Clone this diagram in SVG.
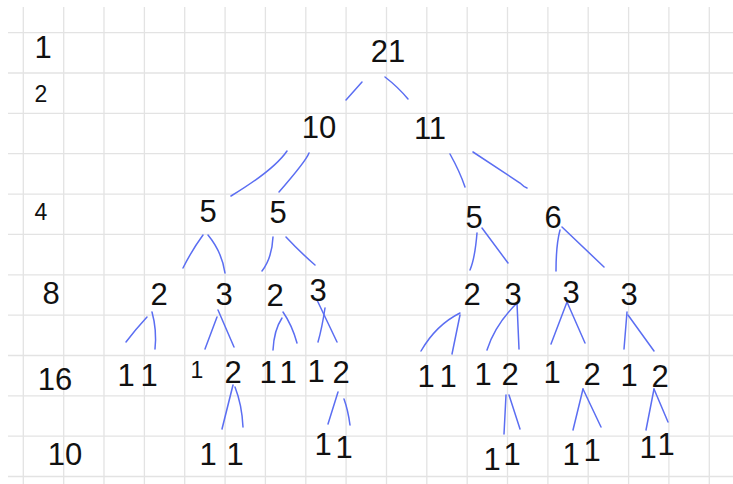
<svg xmlns="http://www.w3.org/2000/svg" width="733" height="484" viewBox="0 0 733 484">
<style>
.grid{stroke:#e3e3e3;stroke-width:1.3;fill:none}
.edge{stroke:#5b6ef2;stroke-width:1.5;fill:none;stroke-linecap:round}
text{font-family:"Liberation Sans",Arial,sans-serif;font-size:31px;fill:#111;text-anchor:middle}
.sm{font-size:23px}
</style>
<rect width="733" height="484" fill="#fff"/>
<g id="grid" class="grid">
<path d="M23.3 7V484M63.7 7V484M104 7V484M144.4 7V484M184.7 7V484M225.1 7V484M265.4 7V484M305.8 7V484M346.1 7V484M386.5 7V484M426.8 7V484M467.2 7V484M507.5 7V484M547.9 7V484M588.2 7V484M628.6 7V484M668.9 7V484M709.3 7V484"/>
<path d="M8 32.7H733M8 73H733M8 113.4H733M8 153.7H733M8 194.1H733M8 234.4H733M8 274.8H733M8 315.1H733M8 355.5H733M8 395.8H733M8 436.2H733M8 476.5H733"/>
</g>
<g id="levels">
<text x="43" y="58">1</text>
<text x="41" y="102" class="sm">2</text>
<text x="41" y="220" class="sm">4</text>
<text x="51" y="304">8</text>
<text x="55" y="390">16</text>
<text x="65" y="465">10</text>
</g>
<g id="connectors" class="edge">
<path d="M362 82L346 100"/>
<path d="M385 77Q398 87 408 99"/>
<path d="M287 151Q274 170 231 196"/>
<path d="M309 153Q306 161 279 192"/>
<path d="M450 154Q460 172 465 187"/>
<path d="M473 152L520 183Q524 187 527 188"/>
<path d="M203 235Q192 250 183 268"/>
<path d="M208 235Q222 252 225 273"/>
<path d="M273 237Q272 258 262 271"/>
<path d="M286 237Q300 252 315 265"/>
<path d="M477 233Q475 258 470 270"/>
<path d="M482 228L508 263"/>
<path d="M560 230Q556 245 556 271"/>
<path d="M562 227L604 267"/>
<path d="M147 317Q135 330 126 342"/>
<path d="M152 312Q157 330 155 349"/>
<path d="M217 317L205 349"/>
<path d="M218 310L234 347"/>
<path d="M282 318Q274 330 273 350"/>
<path d="M283 312Q292 325 297 343"/>
<path d="M325 308Q322 328 318 342"/>
<path d="M317 300L337 342"/>
<path d="M460 313Q436 325 421 351"/>
<path d="M460 315L452 354"/>
<path d="M517 303Q495 325 487 350"/>
<path d="M517 303L519 349"/>
<path d="M567 302L551 344"/>
<path d="M567 302L585 343"/>
<path d="M627 312L624 349"/>
<path d="M628 315L654 351"/>
<path d="M233 385L222 429"/>
<path d="M235 387Q242 405 243 427"/>
<path d="M338 392L328 424"/>
<path d="M344 399Q348 410 350 425"/>
<path d="M506 395L504 434"/>
<path d="M509 395L520 429"/>
<path d="M583 389L573 430"/>
<path d="M583 389L601 427"/>
<path d="M654 389L646 430"/>
<path d="M654 389L668 422"/>
</g>
<g id="n21"><text x="388" y="62">21</text></g>
<g id="n10"><text x="319" y="138">10</text></g>
<g id="n11"><text x="430" y="139">11</text></g>
<g id="n5a"><text x="208" y="222">5</text></g>
<g id="n5b"><text x="278" y="223">5</text></g>
<g id="n5c"><text x="474" y="228">5</text></g>
<g id="n6"><text x="553" y="228">6</text></g>
<g id="n2a"><text x="159" y="305">2</text></g>
<g id="n3a"><text x="224" y="305">3</text></g>
<g id="n2b"><text x="275" y="306">2</text></g>
<g id="n3b"><text x="318" y="301">3</text></g>
<g id="n2c"><text x="472" y="305">2</text></g>
<g id="n3c"><text x="513" y="305">3</text></g>
<g id="n3d"><text x="571" y="303">3</text></g>
<g id="n3e"><text x="629" y="305">3</text></g>
<g id="n1a"><text x="126" y="386">1</text></g>
<g id="n1b"><text x="149" y="386">1</text></g>
<g id="n1c"><text x="197" y="378" class="sm">1</text></g>
<g id="n2d"><text x="233" y="383">2</text></g>
<g id="n1d"><text x="268" y="383">1</text></g>
<g id="n1e"><text x="288" y="383">1</text></g>
<g id="n1f"><text x="316" y="382">1</text></g>
<g id="n2e"><text x="341" y="383">2</text></g>
<g id="n1g"><text x="426" y="387">1</text></g>
<g id="n1h"><text x="448" y="387">1</text></g>
<g id="n1i"><text x="483" y="385">1</text></g>
<g id="n2f"><text x="510" y="385">2</text></g>
<g id="n1j"><text x="552" y="383">1</text></g>
<g id="n2g"><text x="592" y="385">2</text></g>
<g id="n1k"><text x="629" y="386">1</text></g>
<g id="n2h"><text x="660" y="387">2</text></g>
<g id="n1l"><text x="208" y="465">1</text></g>
<g id="n1m"><text x="235" y="465">1</text></g>
<g id="n1n"><text x="323" y="455">1</text></g>
<g id="n1o"><text x="344" y="458">1</text></g>
<g id="n1p"><text x="492" y="470">1</text></g>
<g id="n1q"><text x="512" y="465">1</text></g>
<g id="n1r"><text x="571" y="465">1</text></g>
<g id="n1s"><text x="592" y="461">1</text></g>
<g id="n1t"><text x="648" y="458">1</text></g>
<g id="n1u"><text x="666" y="455">1</text></g>
</svg>
